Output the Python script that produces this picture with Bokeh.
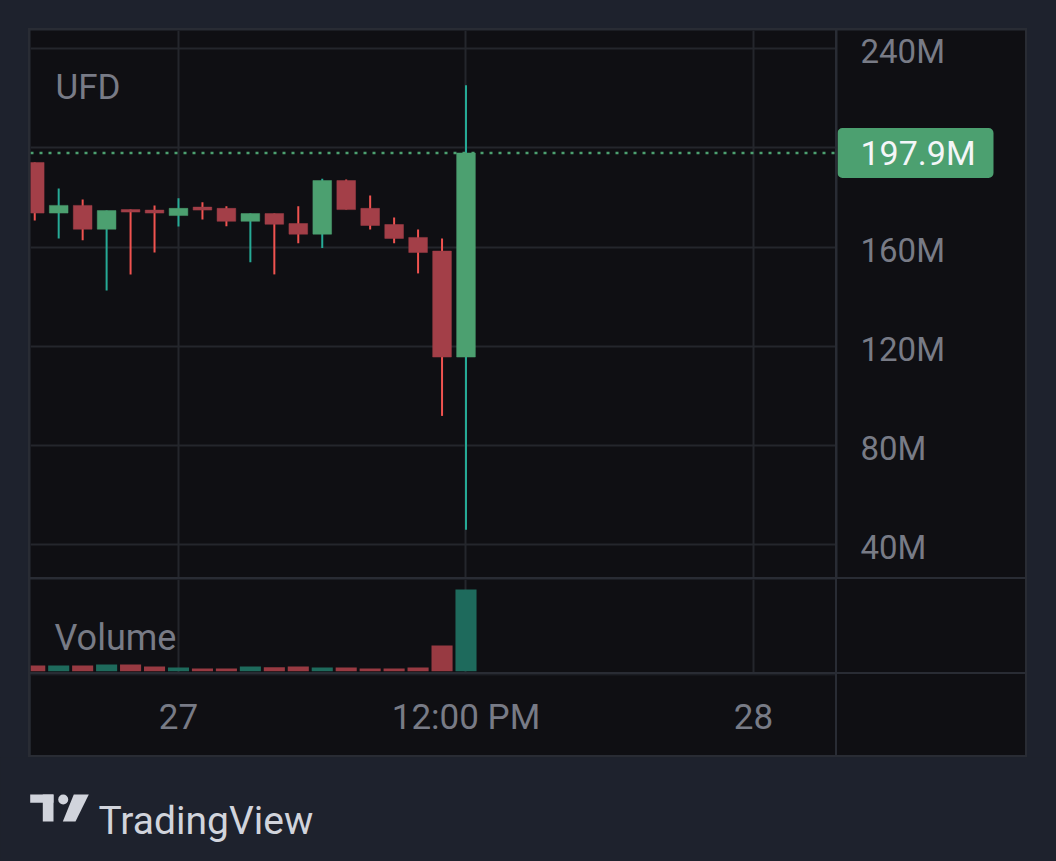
from bokeh.plotting import figure
from bokeh.models import ColumnDataSource, Range1d, FixedTicker, Span, Label, Spacer, Rect
from bokeh.layouts import column, row
from bokeh.embed import file_html
from bokeh.resources import INLINE
from bokeh.core.properties import value

# ---------------- data (hours relative to 27th 00:00, values in millions) ----------------
hours = list(range(-6, 13))
open_ = [194.1, 173.7, 176.8, 167.2, 175.1, 174.9, 172.7, 176.1, 175.6, 170.4,
         173.5, 169.5, 165.2, 186.8, 175.6, 169.1, 163.9, 158.4, 115.7]
close = [173.7, 176.8, 167.2, 174.7, 174.1, 173.7, 175.6, 174.9, 170.4, 173.5,
         169.2, 165.2, 186.8, 175.1, 168.7, 163.5, 157.8, 115.7, 197.9]
high = [194.1, 183.6, 179.2, 174.7, 175.1, 176.8, 179.7, 178.1, 176.5, 173.5,
        173.5, 176.5, 187.5, 187.2, 180.8, 171.9, 167.1, 163.5, 225.2]
low = [170.7, 163.5, 162.8, 142.5, 149.0, 157.8, 168.3, 171.1, 168.4, 153.9,
       149.0, 161.5, 159.6, 175.1, 167.1, 161.5, 149.4, 92.0, 46.1]
volume = [0.57, 0.57, 0.57, 0.67, 0.67, 0.47, 0.37, 0.27, 0.27, 0.47,
          0.40, 0.47, 0.37, 0.37, 0.27, 0.27, 0.37, 2.57, 8.17]

price_ticks = [40, 80, 120, 160, 240]
price_tick_labels = ["40M", "80M", "120M", "160M", "240M"]
price_grid = [40, 80, 120, 160, 200, 240]
time_ticks = [0, 12, 24]
time_tick_labels = ["27", "12:00 PM", "28"]
last_price = 197.9
last_price_label = "197.9M"
symbol = "UFD"

# ---------------- styles ----------------
NAVY = "#1e222d"
BG = "#0f0f13"
SEP = "#292c34"
GRID = "#24262c"
TXT = "#787b86"
UP_BODY = "#4ca070"
DN_BODY = "#a33f48"
UP_WICK = "#26aa96"
DN_WICK = "#f05350"
VOL_UP = "#1e6a5c"
VOL_DN = "#983a42"
FONT = "Roboto"

up = [c >= o for o, c in zip(open_, close)]
src = ColumnDataSource(dict(
    x=hours, open=open_, close=close, high=high, low=low, vol=volume,
    top=[max(o, c) for o, c in zip(open_, close)],
    bottom=[min(o, c) for o, c in zip(open_, close)],
    body=[UP_BODY if u else DN_BODY for u in up],
    wick=[UP_WICK if u else DN_WICK for u in up],
    vcol=[VOL_UP if u else VOL_DN for u in up],
))

PX_PER_H = 23.96
x_start = -148 / PX_PER_H
x_end = 24 + 82 / PX_PER_H
xr = Range1d(x_start, x_end)
yr = Range1d(26.9, 247.25)

COMMON = dict(output_backend="svg", toolbar_location=None,
              x_axis_location=None, y_axis_location=None,
              min_border_left=0, min_border_top=0, min_border_bottom=0, min_border_right=0,
              background_fill_color=BG, border_fill_color=BG, outline_line_color=None)

# ---------------- price pane ----------------
p = figure(width=805, height=547, x_range=xr, y_range=yr, **COMMON)
p.segment("x", "high", "x", "low", source=src, line_color="wick", line_width=2)
p.vbar(x="x", top="top", bottom="bottom", width=0.78, source=src,
       fill_color="body", line_color="body", line_width=0.5)
p.add_layout(Span(location=last_price, dimension="width", line_color=UP_BODY,
                  line_width=2.5, line_dash="3 6"))
p.ygrid.ticker = FixedTicker(ticks=price_grid)
p.xgrid.ticker = FixedTicker(ticks=time_ticks)
p.grid.grid_line_color = GRID
p.grid.grid_line_width = 2
p.add_layout(Label(x=x_start + 25 / PX_PER_H, y=224.3, text=symbol, text_align="left",
                   text_baseline="middle", text_color=TXT, text_font=FONT,
                   text_font_size="35px"))

# ---------------- price scale (right column, shares the price y-range) ----------------
a = figure(width=188, height=547, x_range=Range1d(0, 188), y_range=yr, **COMMON)
a.grid.visible = False
a.text(x=[23] * len(price_ticks), y=price_ticks, text=price_tick_labels,
       text_color=TXT, text_font=value(FONT), text_font_size="33px",
       text_align="left", text_baseline="middle", y_offset=3)
rect_kw = {}
if "border_radius" in Rect.properties():
    rect_kw["border_radius"] = 5
a.rect(x=[78], y=[last_price], width=156, height=50, height_units="screen",
       fill_color=UP_BODY, line_color=None, **rect_kw)
a.text(x=[23], y=[last_price], text=[last_price_label], text_color="#f4f6f8",
       text_font=value(FONT), text_font_size="34px",
       text_align="left", text_baseline="middle")

# ---------------- volume pane ----------------
v = figure(width=805, height=93, x_range=xr, y_range=Range1d(-0.13, 9.17), **COMMON)
v.vbar(x="x", top="vol", bottom=0, width=0.88, source=src,
       fill_color="vcol", line_color=None)
v.xgrid.ticker = FixedTicker(ticks=time_ticks)
v.xgrid.grid_line_color = GRID
v.xgrid.grid_line_width = 2
v.ygrid.visible = False
v.add_layout(Label(x=x_start + 24 / PX_PER_H, y=3.37, text="Volume", text_align="left",
                   text_baseline="middle", text_color=TXT, text_font=FONT,
                   text_font_size="36px"))

# ---------------- time axis ----------------
t = figure(width=805, height=81, x_range=xr, y_range=Range1d(0, 1),
           output_backend="svg", toolbar_location=None,
           y_axis_location=None,
           min_border_left=0, min_border_right=0, min_border_top=0, min_border_bottom=80,
           background_fill_color=BG, border_fill_color=BG, outline_line_color=None)
t.grid.visible = False
xax = t.xaxis[0]
xax.ticker = FixedTicker(ticks=time_ticks)
xax.major_label_overrides = {k: l for k, l in zip(time_ticks, time_tick_labels)}
xax.axis_line_color = None
xax.major_tick_line_color = None
xax.minor_tick_line_color = None
xax.major_tick_out = 0
xax.major_tick_in = 0
xax.major_label_standoff = 21
xax.major_label_text_color = TXT
xax.major_label_text_font = FONT
xax.major_label_text_font_size = "35px"


def blank(h):
    return Spacer(width=188, height=h, styles={"background-color": BG})


price_row = row(p, a, spacing=2, styles={"background-color": SEP})
vol_row = row(v, blank(93), spacing=2, styles={"background-color": SEP})
time_row = row(t, blank(81), spacing=2, styles={"background-color": SEP})
chart = column(price_row, vol_row, time_row, spacing=2, styles={"background-color": SEP})

box = column(Spacer(width=999, height=2),
             row(Spacer(width=2, height=725), chart, Spacer(width=2, height=725)),
             Spacer(width=999, height=2),
             styles={"background-color": SEP})

# ---------------- footer with logo ----------------
f = figure(width=1056, height=104, x_range=Range1d(0, 1056), y_range=Range1d(861, 757),
           output_backend="svg", toolbar_location=None,
           x_axis_location=None, y_axis_location=None,
           min_border=0, min_border_left=0, min_border_right=0, min_border_top=0,
           min_border_bottom=0,
           background_fill_color=NAVY, border_fill_color=NAVY, outline_line_color=None)
f.grid.visible = False
LOGO = "#d1d4dc"
f.quad(left=[29.7, 42.3], right=[53, 53], top=[794, 794], bottom=[802.3, 821],
       fill_color=LOGO, line_color=None)
f.scatter(x=[62.7], y=[799], size=10, fill_color=LOGO, line_color=None)
f.patch(x=[73.3, 88.3, 75.0, 62.3], y=[794, 794, 821, 821], fill_color=LOGO, line_color=None)
f.text(x=[98], y=[820], text=["TradingView"], text_color=LOGO, text_font=value(FONT),
       text_font_size="39px", text_baseline="alphabetic", text_align="left")

layout = column(Spacer(height=28), row(Spacer(width=28), box), f)

html = file_html(layout, INLINE)
css = "<style>html, body { background-color: %s !important; }</style>" % NAVY
html = html.replace("</head>", css + "</head>", 1)
open("out.html", "w").write(html)
